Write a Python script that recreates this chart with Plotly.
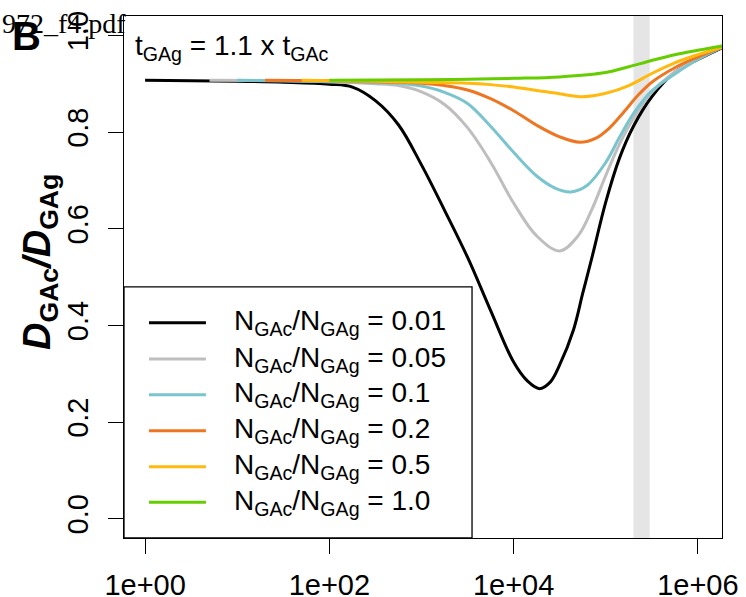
import plotly.graph_objects as go

# Ratio N_GAc/N_GAg for each curve, with its colour
ratio_labels = ["0.01", "0.05", "0.1", "0.2", "0.5", "1.0"]
colors = ["#000000", "#BEBEBE", "#7AC5CD", "#EE7621", "#FFB90F", "#66CD00"]

# Time (x) and D_GAc/D_GAg (y) for each curve
x_001 = [1, 10, 32, 100, 178, 316, 562, 1000, 1780, 3160, 5620, 10000, 14100, 19100,
         25100, 31600, 44700, 56200, 70800, 100000, 141000, 200000, 316000, 562000,
         1000000, 1860000]
y_001 = [0.907, 0.905, 0.903, 0.899, 0.893, 0.865, 0.815, 0.732, 0.638, 0.541, 0.431, 0.324,
         0.285, 0.269, 0.283, 0.318, 0.391, 0.466, 0.540, 0.655, 0.746, 0.812, 0.873, 0.924,
         0.950, 0.975]

x_005 = [5, 32, 100, 316, 562, 1000, 1780, 3160, 5620, 10000, 17800, 31600, 50100, 70800,
         100000, 141000, 200000, 316000, 562000, 1000000, 1860000]
y_005 = [0.907, 0.906, 0.904, 0.900, 0.896, 0.883, 0.857, 0.809, 0.738, 0.653, 0.585, 0.554,
         0.585, 0.640, 0.710, 0.775, 0.828, 0.882, 0.924, 0.952, 0.976]

x_01 = [10, 32, 100, 316, 562, 1000, 1780, 3160, 5620, 10000, 17800, 28200, 41700, 63100,
        100000, 141000, 200000, 316000, 562000, 1000000, 1860000]
y_01 = [0.907, 0.906, 0.904, 0.902, 0.901, 0.895, 0.882, 0.859, 0.812, 0.758, 0.709, 0.684,
        0.676, 0.690, 0.737, 0.789, 0.838, 0.885, 0.920, 0.950, 0.976]

x_02 = [20, 100, 316, 562, 1000, 1780, 3160, 5620, 10000, 17800, 31600, 52500, 79400,
        112000, 158000, 224000, 316000, 562000, 1000000, 1860000]
y_02 = [0.907, 0.906, 0.904, 0.903, 0.901, 0.896, 0.887, 0.869, 0.844, 0.814, 0.790, 0.779,
        0.788, 0.810, 0.842, 0.876, 0.903, 0.933, 0.955, 0.976]

x_05 = [50, 316, 1000, 3160, 5620, 10000, 17800, 31600, 56200, 100000, 178000, 316000,
        562000, 1000000, 1860000]
y_05 = [0.907, 0.905, 0.903, 0.901, 0.898, 0.893, 0.886, 0.879, 0.873, 0.880, 0.896, 0.921,
        0.943, 0.960, 0.976]

x_10 = [100, 1000, 3160, 10000, 31600, 100000, 178000, 316000, 562000, 1000000, 1860000]
y_10 = [0.907, 0.908, 0.909, 0.911, 0.914, 0.923, 0.935, 0.948, 0.960, 0.969, 0.978]

series_x = [x_001, x_005, x_01, x_02, x_05, x_10]
series_y = [y_001, y_005, y_01, y_02, y_05, y_10]

# Shaded time window
band_x = [2e5, 3e5]

# Axis ticks
x_tickvals = [1, 1e2, 1e4, 1e6]
x_ticktext = ["1e+00", "1e+02", "1e+04", "1e+06"]
y_tickvals = [0.0, 0.2, 0.4, 0.6, 0.8, 1.0]
y_ticktext = ["0.0", "0.2", "0.4", "0.6", "0.8", "1.0"]

SANS = "Liberation Sans, Arial, sans-serif"

fig = go.Figure()

fig.add_trace(go.Scatter(
    x=[band_x[0], band_x[1], band_x[1], band_x[0], band_x[0]],
    y=[-0.2, -0.2, 1.2, 1.2, -0.2],
    mode="lines", fill="toself", fillcolor="#E5E5E5",
    line=dict(width=0, color="#E5E5E5"), hoverinfo="skip", showlegend=False,
))

for xs, ys, c, lab in zip(series_x, series_y, colors, ratio_labels):
    fig.add_trace(go.Scatter(
        x=xs, y=ys, mode="lines",
        line=dict(color=c, width=3, shape="spline", smoothing=1.0),
        name="N_GAc/N_GAg = " + lab, showlegend=False,
    ))

# Hand-built legend box in the lower-left corner of the plot
shapes = [dict(type="rect", xref="paper", yref="paper", x0=0, x1=0.582, y0=0, y1=0.481,
               line=dict(color="black", width=1.3), fillcolor="white", layer="above")]
annotations = []
row_y = [0.4125, 0.3429, 0.2745, 0.2055, 0.1366, 0.0684]
for ry, c, lab in zip(row_y, colors, ratio_labels):
    shapes.append(dict(type="line", xref="paper", yref="paper", x0=0.0418, x1=0.137,
                       y0=ry, y1=ry, line=dict(color=c, width=3), layer="above"))
    annotations.append(dict(
        xref="paper", yref="paper", x=0.1806, y=ry, xanchor="left", yanchor="middle",
        text="N<sub>GAc</sub>/N<sub>GAg</sub> = " + lab, showarrow=False,
        font=dict(family=SANS, size=28, color="black"),
    ))

annotations += [
    dict(xref="paper", yref="paper", x=0.015, y=0.940, xanchor="left", yanchor="middle",
         text="t<sub>GAg</sub> = 1.1 x t<sub>GAc</sub>", showarrow=False,
         font=dict(family=SANS, size=28, color="black")),
    dict(xref="paper", yref="paper", x=-0.1405, y=0.5287, xanchor="center", yanchor="middle",
         textangle=-90, showarrow=False,
         text="<b><i>D</i><sub>GAc</sub><i>/D</i><sub>GAg</sub></b>",
         font=dict(family=SANS, size=38, color="black")),
    dict(xref="paper", yref="paper", x=-0.1906, y=0.962, xanchor="left", yanchor="middle",
         text="<b>B</b>", showarrow=False,
         font=dict(family=SANS, size=40, color="black")),
    dict(xref="paper", yref="paper", x=0.0067, y=0.985, xanchor="right", yanchor="middle",
         text="972_f4.pdf", showarrow=False,
         font=dict(family="Liberation Serif, Times New Roman, serif", size=28, color="black")),
]

fig.update_layout(
    width=746, height=597,
    margin=dict(l=124, r=24, t=16, b=59),
    paper_bgcolor="white", plot_bgcolor="white",
    shapes=shapes, annotations=annotations,
    xaxis=dict(
        type="log", range=[-0.229, 6.262], automargin=False,
        tickvals=x_tickvals, ticktext=x_ticktext,
        ticks="outside", ticklen=15, tickwidth=1.3, tickcolor="black",
        showline=True, linecolor="black", linewidth=1.3, mirror=True,
        showgrid=False, zeroline=False, ticklabelstandoff=6,
        tickfont=dict(family=SANS, size=29, color="black"),
    ),
    yaxis=dict(
        range=[-0.04, 1.04], automargin=False,
        tickvals=y_tickvals, ticktext=y_ticktext, tickangle=-90,
        ticks="outside", ticklen=15, tickwidth=1.3, tickcolor="black",
        showline=True, linecolor="black", linewidth=1.3, mirror=True,
        showgrid=False, zeroline=False, ticklabelstandoff=8,
        tickfont=dict(family=SANS, size=29, color="black"),
    ),
)

fig.write_html("out.html")
